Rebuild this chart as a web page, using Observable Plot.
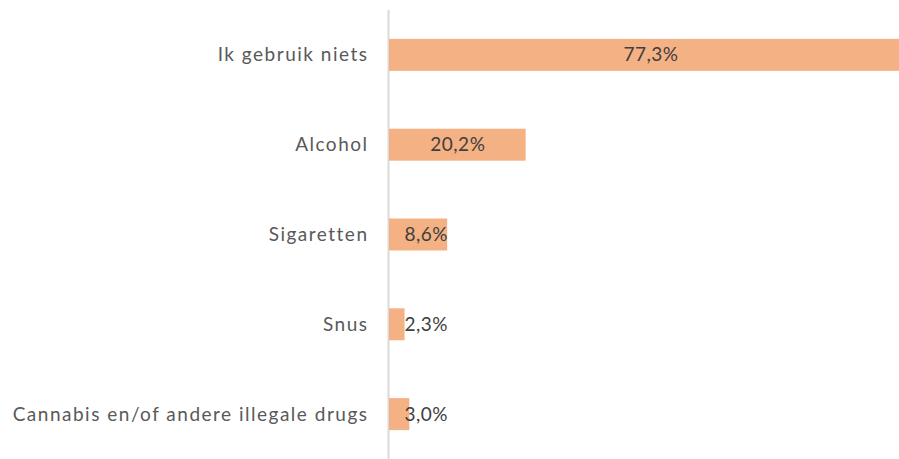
<!DOCTYPE html>
<html>
<head>
<meta charset="utf-8">
<script src="https://cdn.jsdelivr.net/npm/d3@7"></script>
<script src="https://cdn.jsdelivr.net/npm/@observablehq/plot@0.6"></script>
<style>
  html, body { margin: 0; padding: 0; background: #fff; overflow: hidden; }
  #chart svg { overflow: hidden; }
  #chart .cat text { letter-spacing: 1.5px; }
  #chart .val text { letter-spacing: 0.5px; }
</style>
</head>
<body>
<div id="chart"></div>
<script>
const categories = ["Ik gebruik niets", "Alcohol", "Sigaretten", "Snus", "Cannabis en/of andere illegale drugs"];
const values = [77.3, 20.2, 8.6, 2.3, 3.0];
const valueLabels = ["77,3%", "20,2%", "8,6%", "2,3%", "3,0%"];

const data = categories.map((c, i) => ({category: c, value: values[i], label: valueLabels[i]}));
const big = data.filter(d => d.value >= 11);
const small = data.filter(d => d.value < 11);

const chart = Plot.plot({
  width: 899,
  height: 459,
  marginLeft: 389,
  marginRight: 0,
  marginTop: 10,
  marginBottom: 0,
  style: {fontFamily: "Lato, sans-serif", fontSize: "19px", background: "#fff"},
  x: {domain: [0, 75.4], axis: null},
  y: {domain: categories, paddingInner: 0.644, paddingOuter: 0.322, round: false, axis: null},
  marks: [
    Plot.ruleX([0], {stroke: "#d9d9d9", strokeWidth: 2, dx: -1}),
    Plot.barX(data, {y: "category", x: "value", fill: "#F4B183"}),
    Plot.axisY({tickSize: 0, tickPadding: 21, label: null, fill: "#595959", fontSize: 19, className: "cat"}),
    Plot.text(big, {y: "category", x: d => d.value / 2, text: "label", fill: "#404040", fontSize: 19, textAnchor: "middle", className: "val"}),
    Plot.text(small, {y: "category", x: 0, text: "label", fill: "#404040", fontSize: 19, textAnchor: "start", dx: 15, className: "val"})
  ]
});
document.getElementById("chart").append(chart);
</script>
</body>
</html>
